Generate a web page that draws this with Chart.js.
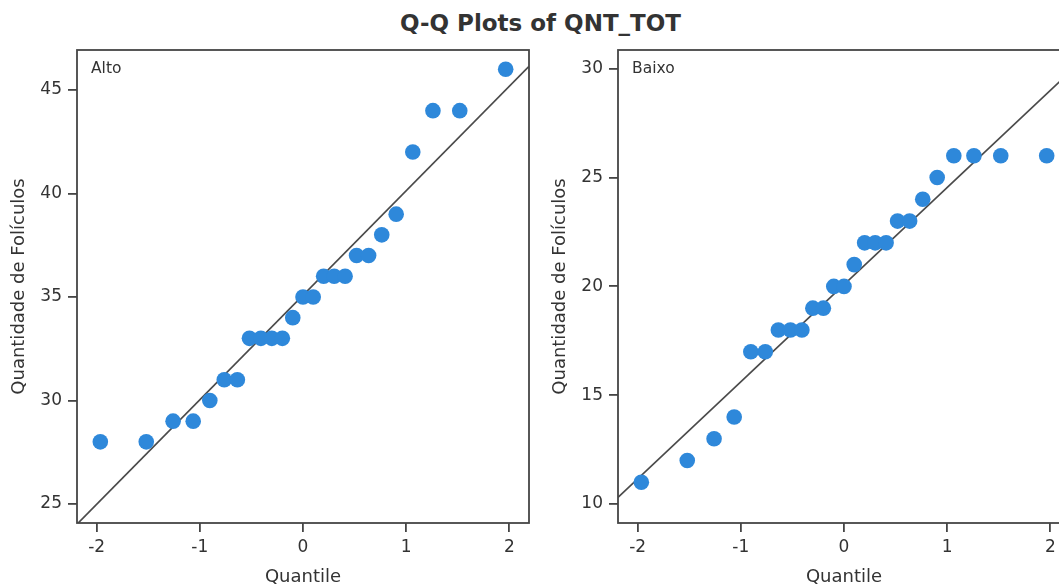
<!DOCTYPE html>
<html>
<head>
<meta charset="utf-8">
<script src="https://cdn.jsdelivr.net/npm/chart.js@4/dist/chart.umd.min.js"></script>
<style>
  html, body { margin: 0; padding: 0; background: #fff; overflow: hidden; }
  body { width: 1059px; height: 588px; position: relative; }
  #title { position: absolute; left: 11px; width: 1059px; top: 10px; text-align: center;
           font: bold 23px "DejaVu Sans", sans-serif; color: #333; }
  .panel { position: absolute; top: 0; width: 540px; height: 588px; }
  #p1 { left: 0; }
  #p2 { left: 541px; }
</style>
</head>
<body>
<div id="title">Q-Q Plots of QNT_TOT</div>
<div class="panel" id="p1"><canvas id="c1"></canvas></div>
<div class="panel" id="p2"><canvas id="c2"></canvas></div>
<script>
// Theoretical normal quantiles (Blom positions, n = 25)
const quantiles = [-1.964, -1.519, -1.259, -1.064, -0.903, -0.763, -0.636, -0.519, -0.408,
  -0.302, -0.200, -0.099, 0, 0.099, 0.200, 0.302, 0.408, 0.519, 0.636, 0.763, 0.903,
  1.064, 1.259, 1.519, 1.964];

// Sorted QNT_TOT values per group
const altoValues = [28, 28, 29, 29, 30, 31, 31, 33, 33, 33, 33, 34, 35, 35, 36, 36, 36,
  37, 37, 38, 39, 42, 44, 44, 46];
const baixoValues = [11, 12, 13, 14, 17, 17, 18, 18, 18, 19, 19, 20, 20, 21, 22, 22, 22,
  23, 23, 24, 25, 26, 26, 26, 26];

// Axis ticks
const xTicks = [-2, -1, 0, 1, 2];
const altoYTicks = [25, 30, 35, 40, 45];
const baixoYTicks = [10, 15, 20, 25, 30];

const xRange = [-2.19, 2.19];
const altoYRange = [24.08, 46.93];
const baixoYRange = [9.13, 30.86];

const TEXT = '#333';
const AXIS = '#454545';
const DOT = '#2e88da';
const FONT = '"DejaVu Sans", sans-serif';

function meanSd(v) {
  const m = v.reduce((a, b) => a + b, 0) / v.length;
  const s = Math.sqrt(v.reduce((a, b) => a + (b - m) * (b - m), 0) / (v.length - 1));
  return [m, s];
}

// Full plot frame and group label
const framePlugin = {
  id: 'frame',
  afterDraw(chart) {
    const a = chart.chartArea, ctx = chart.ctx;
    ctx.save();
    ctx.strokeStyle = AXIS;
    ctx.lineWidth = 1.8;
    ctx.strokeRect(a.left, a.top, a.right - a.left, a.bottom - a.top);
    ctx.fillStyle = TEXT;
    ctx.font = '15.5px ' + FONT;
    ctx.textBaseline = 'middle';
    ctx.fillText(chart.options.plugins.panelLabel.text, a.left + 14, a.top + 19);
    ctx.restore();
  }
};

function makeChart(id, label, values, yTicks, yRange) {
  const [m, s] = meanSd(values);
  const pts = quantiles.map((q, i) => ({ x: q, y: values[i] }));
  const ref = xRange.map(x => ({ x: x, y: m + s * x }));
  return new Chart(document.getElementById(id), {
    type: 'scatter',
    data: {
      datasets: [
        { type: 'line', data: ref, borderColor: '#4a4a4a', borderWidth: 1.7, pointRadius: 0,
          fill: false, order: 2 },
        { data: pts, backgroundColor: DOT, borderWidth: 0, pointRadius: 7.8,
          pointHoverRadius: 7.8, order: 1 }
      ]
    },
    plugins: [framePlugin],
    options: {
      responsive: true,
      maintainAspectRatio: false,
      animation: false,
      events: [],
      layout: { padding: { top: 50, right: 11, left: 0, bottom: 0 } },
      plugins: {
        legend: { display: false },
        tooltip: { enabled: false },
        panelLabel: { text: label }
      },
      scales: {
        x: {
          type: 'linear', min: xRange[0], max: xRange[1],
          afterBuildTicks: sc => { sc.ticks = xTicks.map(v => ({ value: v })); },
          afterFit: sc => { sc.height = 65; },
          grid: { display: true, drawOnChartArea: false, drawTicks: true, tickLength: 9,
                  color: AXIS, lineWidth: 1.8 },
          border: { display: false },
          ticks: { color: TEXT, font: { family: FONT, size: 17 }, padding: 5, maxRotation: 0 },
          title: { display: true, text: 'Quantile', color: TEXT,
                   font: { family: FONT, size: 18 }, padding: { top: 0, bottom: 0 } }
        },
        y: {
          type: 'linear', min: yRange[0], max: yRange[1],
          afterBuildTicks: sc => { sc.ticks = yTicks.map(v => ({ value: v })); },
          afterFit: sc => { sc.width = 77; },
          grid: { display: true, drawOnChartArea: false, drawTicks: true, tickLength: 9,
                  color: AXIS, lineWidth: 1.8 },
          border: { display: false },
          ticks: { color: TEXT, font: { family: FONT, size: 17 }, padding: 6 },
          title: { display: true, text: 'Quantidade de Folículos', color: TEXT,
                   font: { family: FONT, size: 18 }, padding: { top: 9, bottom: 0 } }
        }
      }
    }
  });
}

makeChart('c1', 'Alto', altoValues, altoYTicks, altoYRange);
makeChart('c2', 'Baixo', baixoValues, baixoYTicks, baixoYRange);
</script>
</body>
</html>
